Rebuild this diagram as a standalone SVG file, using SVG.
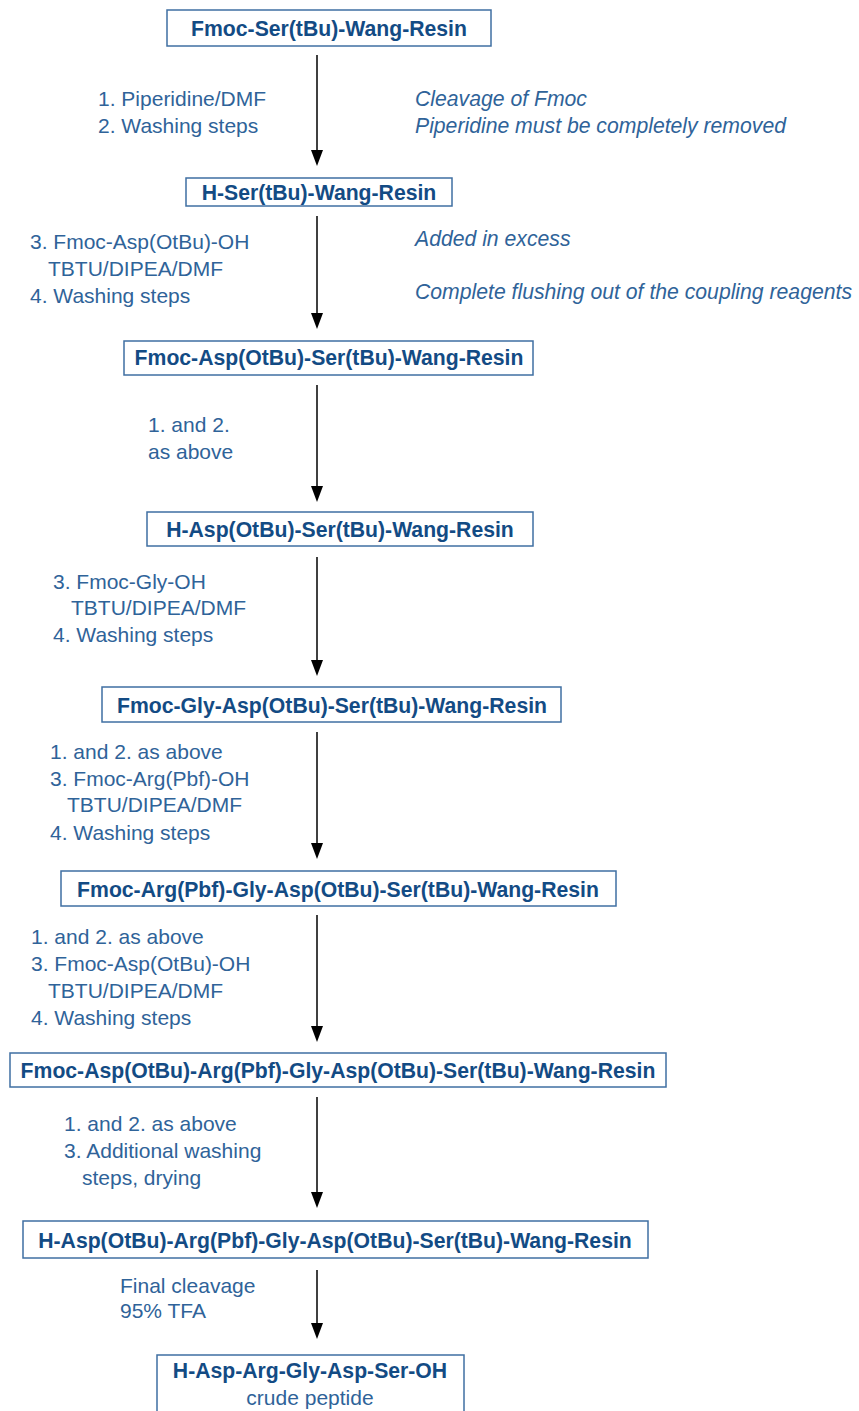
<svg xmlns="http://www.w3.org/2000/svg" width="859" height="1411" viewBox="0 0 859 1411">
<defs>
<style>
.box{fill:#fff;stroke:#3f6fa2;stroke-width:1.5}
.nt{font-family:"Liberation Sans",Arial,sans-serif;font-weight:bold;font-size:21.2px;fill:#134b84;text-anchor:middle}
.nr{font-family:"Liberation Sans",Arial,sans-serif;font-size:21px;fill:#2f6399;text-anchor:middle}
.lb{font-family:"Liberation Sans",Arial,sans-serif;font-size:21px;fill:#2f6399}
.it{font-family:"Liberation Sans",Arial,sans-serif;font-size:21.2px;font-style:italic;fill:#2f6399}
.ar{stroke:#000;stroke-width:1.5;fill:none}
.hd{fill:#000}
</style>
</defs>
<rect width="859" height="1411" fill="#fff"/>
<g id="connectors">
<line class="ar" x1="317" y1="55" x2="317" y2="150"/><path class="hd" d="M311,150 L323,150 L317,166 Z"/>
<line class="ar" x1="317" y1="216" x2="317" y2="313"/><path class="hd" d="M311,313 L323,313 L317,329 Z"/>
<line class="ar" x1="317" y1="385" x2="317" y2="486"/><path class="hd" d="M311,486 L323,486 L317,502 Z"/>
<line class="ar" x1="317" y1="557" x2="317" y2="660"/><path class="hd" d="M311,660 L323,660 L317,676 Z"/>
<line class="ar" x1="317" y1="732" x2="317" y2="843"/><path class="hd" d="M311,843 L323,843 L317,859 Z"/>
<line class="ar" x1="317" y1="915" x2="317" y2="1026"/><path class="hd" d="M311,1026 L323,1026 L317,1042 Z"/>
<line class="ar" x1="317" y1="1097" x2="317" y2="1192"/><path class="hd" d="M311,1192 L323,1192 L317,1208 Z"/>
<line class="ar" x1="317" y1="1270" x2="317" y2="1323"/><path class="hd" d="M311,1323 L323,1323 L317,1339 Z"/>
</g>
<g id="n1"><rect class="box" x="167" y="10" width="324" height="36"/><text class="nt" x="329" y="36">Fmoc-Ser(tBu)-Wang-Resin</text></g>
<g id="l1">
<text class="lb" x="98" y="106">1. Piperidine/DMF</text>
<text class="lb" x="98" y="133">2. Washing steps</text>
<text class="it" x="415" y="106">Cleavage of Fmoc</text>
<text class="it" x="415" y="133">Piperidine must be completely removed</text>
</g>
<g id="n2"><rect class="box" x="186" y="178" width="266" height="28"/><text class="nt" x="319" y="200">H-Ser(tBu)-Wang-Resin</text></g>
<g id="l2">
<text class="lb" x="30" y="249">3. Fmoc-Asp(OtBu)-OH</text>
<text class="lb" x="48" y="276">TBTU/DIPEA/DMF</text>
<text class="lb" x="30" y="303">4. Washing steps</text>
<text class="it" x="415" y="246">Added in excess</text>
<text class="it" x="415" y="299">Complete flushing out of the coupling reagents</text>
</g>
<g id="n3"><rect class="box" x="124" y="341" width="409" height="34"/><text class="nt" x="329" y="365">Fmoc-Asp(OtBu)-Ser(tBu)-Wang-Resin</text></g>
<g id="l3">
<text class="lb" x="148" y="432">1. and 2.</text>
<text class="lb" x="148" y="459">as above</text>
</g>
<g id="n4"><rect class="box" x="147" y="512" width="386" height="34"/><text class="nt" x="340" y="537">H-Asp(OtBu)-Ser(tBu)-Wang-Resin</text></g>
<g id="l4">
<text class="lb" x="53" y="589">3. Fmoc-Gly-OH</text>
<text class="lb" x="71" y="615">TBTU/DIPEA/DMF</text>
<text class="lb" x="53" y="642">4. Washing steps</text>
</g>
<g id="n5"><rect class="box" x="102" y="687" width="459" height="35"/><text class="nt" x="332" y="713">Fmoc-Gly-Asp(OtBu)-Ser(tBu)-Wang-Resin</text></g>
<g id="l5">
<text class="lb" x="50" y="759">1. and 2. as above</text>
<text class="lb" x="50" y="786">3. Fmoc-Arg(Pbf)-OH</text>
<text class="lb" x="67" y="812">TBTU/DIPEA/DMF</text>
<text class="lb" x="50" y="840">4. Washing steps</text>
</g>
<g id="n6"><rect class="box" x="61" y="871" width="555" height="35"/><text class="nt" x="338" y="897">Fmoc-Arg(Pbf)-Gly-Asp(OtBu)-Ser(tBu)-Wang-Resin</text></g>
<g id="l6">
<text class="lb" x="31" y="944">1. and 2. as above</text>
<text class="lb" x="31" y="971">3. Fmoc-Asp(OtBu)-OH</text>
<text class="lb" x="48" y="998">TBTU/DIPEA/DMF</text>
<text class="lb" x="31" y="1025">4. Washing steps</text>
</g>
<g id="n7"><rect class="box" x="10" y="1053" width="656" height="34"/><text class="nt" x="338" y="1078">Fmoc-Asp(OtBu)-Arg(Pbf)-Gly-Asp(OtBu)-Ser(tBu)-Wang-Resin</text></g>
<g id="l7">
<text class="lb" x="64" y="1131">1. and 2. as above</text>
<text class="lb" x="64" y="1158">3. Additional washing</text>
<text class="lb" x="82" y="1185">steps, drying</text>
</g>
<g id="n8"><rect class="box" x="23" y="1221" width="625" height="37"/><text class="nt" x="335" y="1248">H-Asp(OtBu)-Arg(Pbf)-Gly-Asp(OtBu)-Ser(tBu)-Wang-Resin</text></g>
<g id="l8">
<text class="lb" x="120" y="1293">Final cleavage</text>
<text class="lb" x="120" y="1318">95% TFA</text>
</g>
<g id="n9"><rect class="box" x="157" y="1355" width="307" height="70"/><text class="nt" x="310" y="1378">H-Asp-Arg-Gly-Asp-Ser-OH</text><text class="nr" x="310" y="1405">crude peptide</text></g>
</svg>
